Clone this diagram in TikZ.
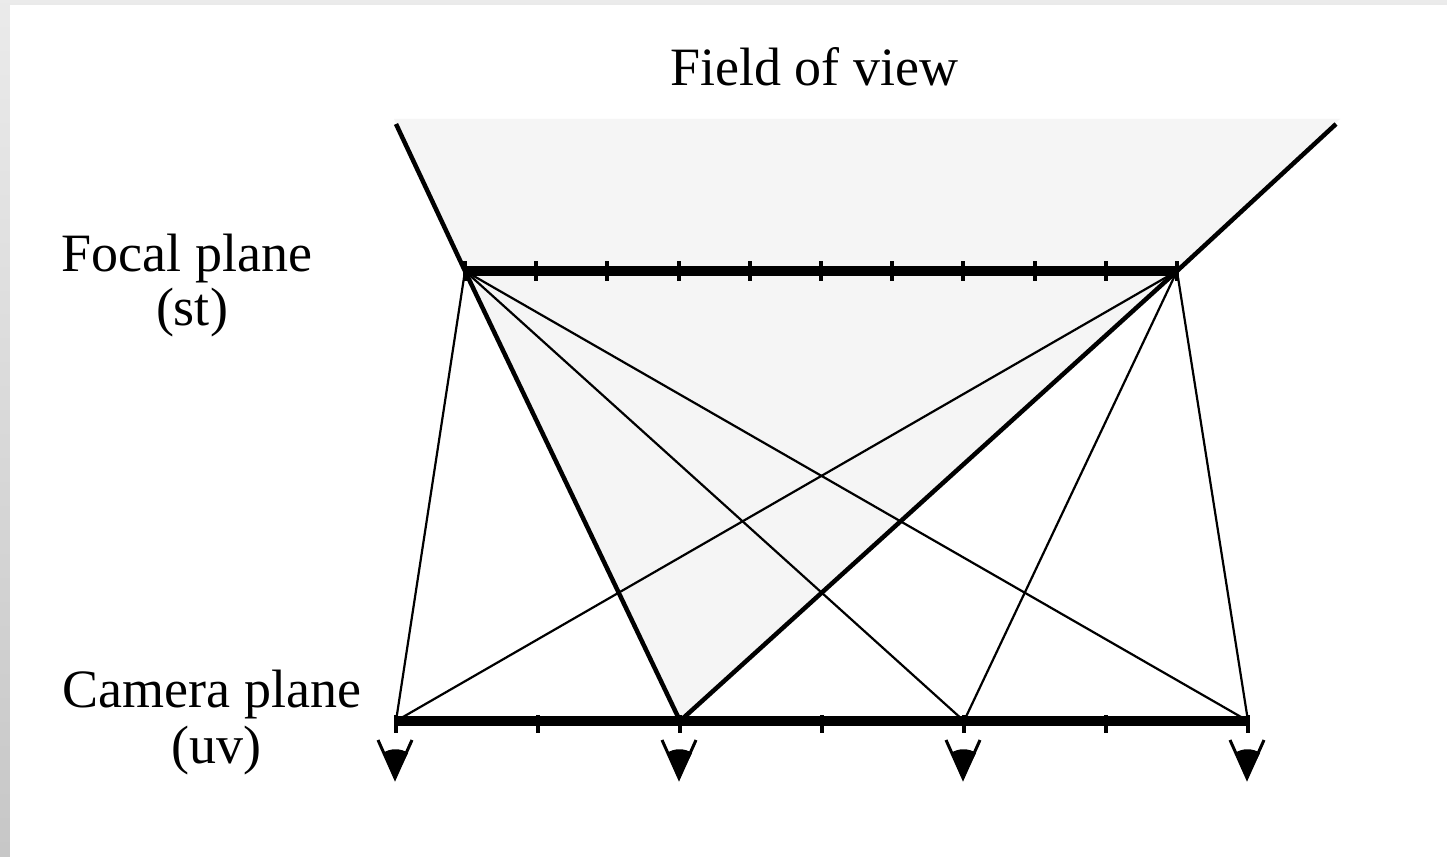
\documentclass[tikz,border=0pt]{standalone}
\usepackage{fontspec}
\setmainfont{Liberation Serif}
\usetikzlibrary{calc}
\begin{document}
\begin{tikzpicture}[x=1pt,y=-1pt,
  lbl/.style={anchor=base,inner sep=0pt,font=\fontsize{54}{60}\selectfont},
  thinray/.style={line width=2.2pt,black},
  thickray/.style={line width=4.5pt,black},
  planebar/.style={line width=10pt,black},
  tickmark/.style={line width=4pt,black},
  eyev/.style={line width=3pt,black,line join=miter},
]
\useasboundingbox (0,0) rectangle (1447,856);
% slide frame background
\shade[top color=black!8,bottom color=black!22] (0,0) rectangle (1447,856);
\fill[white] (10,5) rectangle (1452,862);

% named points
\coordinate (f1) at (465,271);
\coordinate (f2) at (1177,271);
\coordinate (c1) at (396,721);
\coordinate (c2) at (680,721);
\coordinate (c3) at (964,721);
\coordinate (c4) at (1248,721);
\coordinate (tl) at (396,124);
\coordinate (tr) at (1336,124);

% field of view shading
\fill[black!4] (394,119) -- (1340,119) -- (f2) -- (c2) -- (f1) -- cycle;

% thin rays
\foreach \c in {c1,c3,c4}{
  \draw[thinray] (\c) -- (f1);
  \draw[thinray] (\c) -- (f2);
}
% thick rays
\draw[thickray] (f1) -- (c2) -- (f2);
\draw[thickray] (tl) -- (f1);
\draw[thickray] (tr) -- (f2);

% planes
\draw[planebar] (f1) -- (f2);
\draw[planebar] (c1) -- (c4);
\foreach \i in {0,...,10}{
  \draw[tickmark] ($(f1)!\i/10!(f2)+(0,-10)$) -- ++(0,20);
}
\foreach \i in {0,...,6}{
  \draw[tickmark] ($(c1)!\i/6!(c4)+(0,-6)$) -- ++(0,18);
}

% cameras
\foreach \c in {c1,c2,c3,c4}{
  \draw[eyev] ($(\c)+(-18,19)$) -- ($(\c)+(-1,57)$) -- ($(\c)+(16,19)$);
  \fill ($(\c)+(-13,32)$) .. controls ($(\c)+(-6,27)$) and ($(\c)+(5,27)$) .. ($(\c)+(12,32)$) -- ($(\c)+(-1,58)$) -- cycle;
}

% labels
\node[lbl] (fov) at (814,86) {Field of view};
\node[lbl] (focal1) at (187,271) {Focal plane};
\node[lbl] (focal2) at (192,325) {(st)};
\node[lbl] (cam1) at (212,707) {Camera plane};
\node[lbl] (cam2) at (216,763) {(uv)};
\end{tikzpicture}
\end{document}
